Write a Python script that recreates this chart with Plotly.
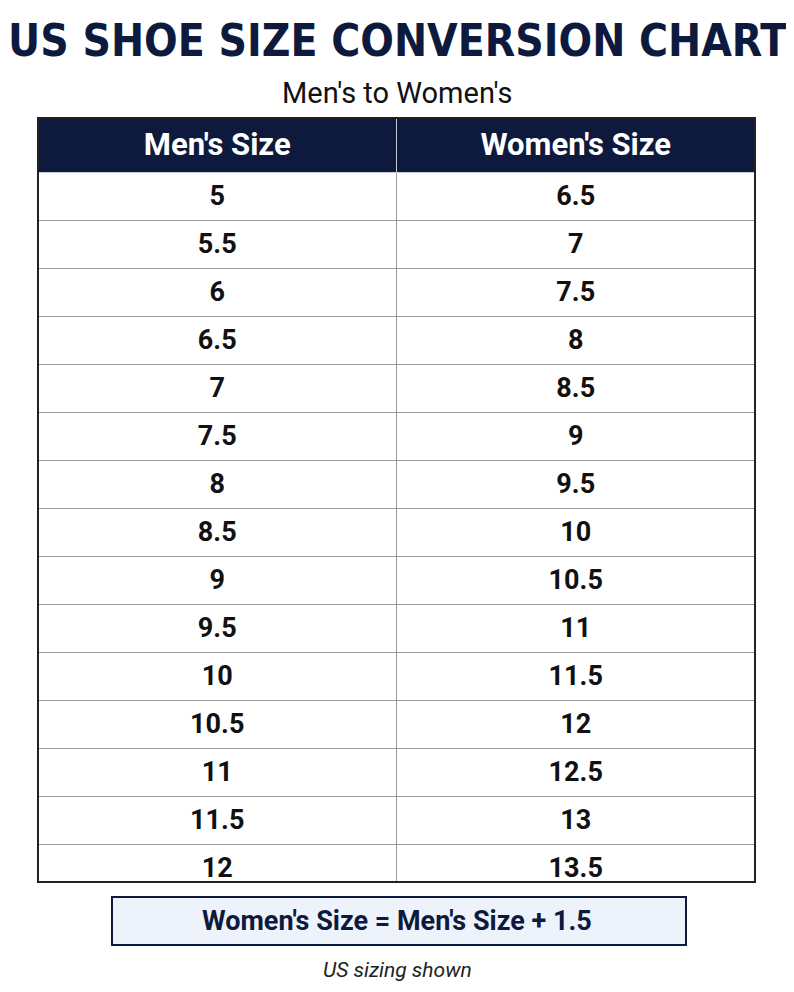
import plotly.graph_objects as go

mens = ["5", "5.5", "6", "6.5", "7", "7.5", "8", "8.5", "9", "9.5",
        "10", "10.5", "11", "11.5", "12", "12.5", "13"]
womens = ["6.5", "7", "7.5", "8", "8.5", "9", "9.5", "10", "10.5", "11",
          "11.5", "12", "12.5", "13", "13.5", "14", "14.5"]
headers = ["Men's Size", "Women's Size"]

NAVY = "#0d1a3d"
# page body has an 8px margin, so the figure is drawn 8px in from the corner
OFF = 8
W, H = 794 - 2 * OFF, 992 - 2 * OFF

def px(x):
    return (x - OFF) / W

def py(y):
    return 1 - (y - OFF) / H

x0, x1 = px(38), px(755)
fig = go.Figure(go.Table(
    domain=dict(x=[x0, x1], y=[py(882), py(118)]),
    columnwidth=[1, 1],
    header=dict(values=[f"<b>{h}</b>" for h in headers], fill_color=NAVY,
                line_color="#c8cbd3", height=54, align="center",
                font=dict(family="Roboto", size=31, color="white")),
    cells=dict(values=[[f"<b>{v}</b>" for v in mens], [f"<b>{v}</b>" for v in womens]],
               fill_color="white", line_color="#9a9a9a",
               height=41.8, align="center",
               font=dict(family="Roboto", size=27, color="#111111")),
))

fig.add_shape(type="rect", xref="paper", yref="paper", x0=x0, x1=x1,
              y0=py(882), y1=py(118), line=dict(color="#222", width=2),
              fillcolor="rgba(0,0,0,0)")
fig.add_shape(type="rect", xref="paper", yref="paper", x0=px(112), x1=px(686),
              y0=py(945), y1=py(897), line=dict(color=NAVY, width=2),
              fillcolor="#eef2fb", layer="below")

common = dict(xref="paper", yref="paper", showarrow=False, xanchor="center", yanchor="middle")
fig.add_annotation(text="<b>US SHOE SIZE CONVERSION CHART</b>", x=px(397), y=py(40),
                   font=dict(family="DejaVu Sans Condensed, DejaVu Sans", size=44,
                             color=NAVY), **common)
fig.add_annotation(text="Men's to Women's", x=px(397), y=py(93),
                   font=dict(family="Roboto", size=29, color="#111"), **common)
fig.add_annotation(text="<b>Women's Size = Men's Size + 1.5</b>", x=px(397), y=py(921),
                   font=dict(family="Roboto", size=27, color=NAVY), **common)
fig.add_annotation(text="<i>US sizing shown</i>", x=px(397), y=py(970),
                   font=dict(family="Roboto", size=21, color="#222"), **common)

fig.update_layout(width=W, height=H, margin=dict(l=0, r=0, t=0, b=0),
                  paper_bgcolor="white", plot_bgcolor="white")
fig.write_html("out.html")
